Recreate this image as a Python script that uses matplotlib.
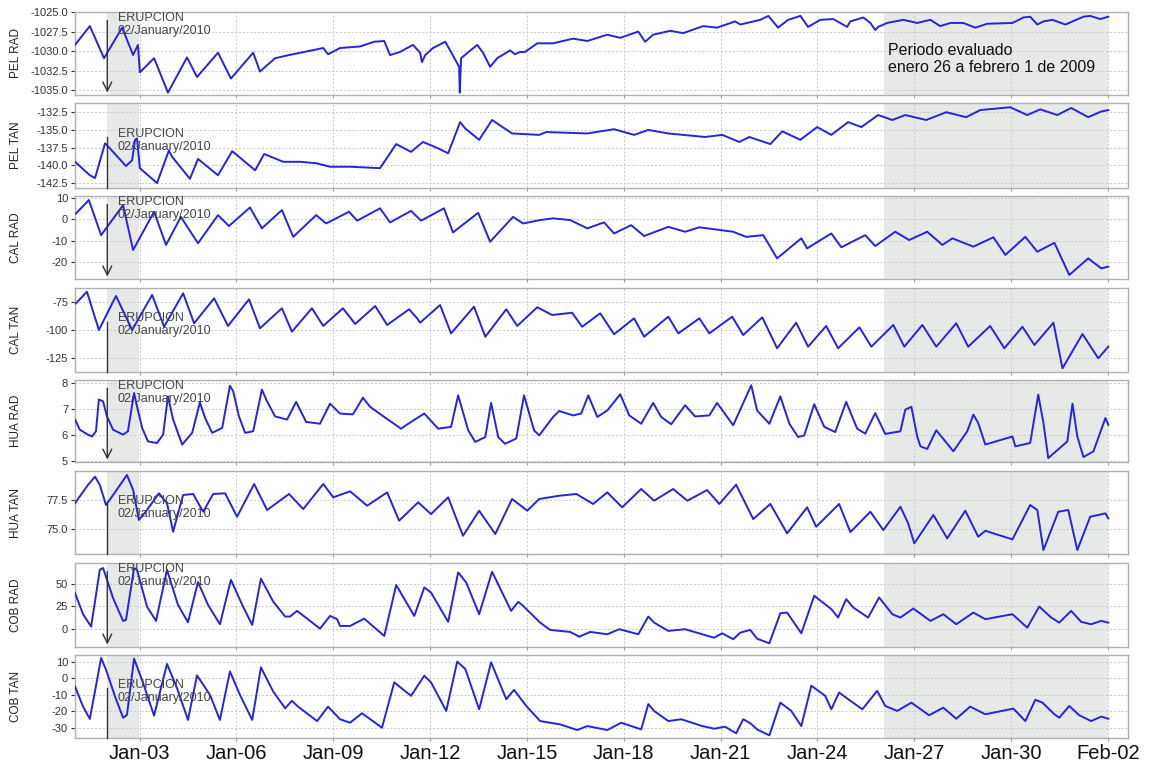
import matplotlib
matplotlib.use("Agg")
import matplotlib.pyplot as plt
import matplotlib.dates as mdates
from matplotlib.ticker import FormatStrFormatter
from datetime import datetime, timedelta

plt.rcParams['font.family'] = ['Liberation Sans', 'DejaVu Sans']

# ---------------- data (time = days since 2010-01-01 00:00) ----------------
start = datetime(2010, 1, 1)

pel_rad_t = [0.00, 0.46, 0.90, 1.46, 1.80, 1.95, 2.01, 2.45, 2.88, 3.47, 3.78, 4.43, 4.83, 5.52, 5.73, 6.20,
             6.63, 7.69, 7.84, 8.21, 8.83, 9.27, 9.58, 9.76, 10.07, 10.47, 10.69, 10.75, 10.85, 11.09, 11.47,
             11.62, 11.78, 11.90, 11.92, 11.96, 12.46, 12.64, 12.86, 13.08, 13.48, 13.63, 13.79, 13.94, 14.32,
             14.81, 15.43, 15.87, 16.49, 16.89, 17.45, 17.66, 17.91, 18.44, 18.84, 19.46, 19.89, 20.45, 20.61,
             21.23, 21.48, 21.78, 22.09, 22.47, 22.71, 23.09, 23.49, 23.92, 24.02, 24.42, 24.64, 24.79, 24.88,
             25.16, 25.66, 26.09, 26.50, 26.80, 27.12, 27.52, 27.89, 28.26, 29.04, 29.38, 29.59, 29.81, 30.00,
             30.28, 30.68, 31.24, 31.45, 31.76, 32.01]
pel_rad_v = [-1029.2, -1026.8, -1030.9, -1027.0, -1030.5, -1029.2, -1032.7, -1030.9, -1035.3, -1030.8, -1033.3,
             -1030.2, -1033.5, -1030.2, -1032.6, -1030.9, -1030.5, -1029.6, -1030.4, -1029.6, -1029.4, -1028.8,
             -1028.7, -1030.5, -1030.1, -1029.2, -1030.2, -1031.4, -1030.5, -1029.6, -1028.8, -1029.9, -1031.1,
             -1032.0, -1035.3, -1030.9, -1029.2, -1030.2, -1032.0, -1030.9, -1029.9, -1030.4, -1030.1, -1030.1,
             -1029.0, -1029.0, -1028.4, -1028.7, -1027.9, -1028.3, -1027.5, -1028.8, -1027.9, -1027.4, -1027.7,
             -1026.8, -1027.0, -1026.2, -1026.6, -1026.0, -1025.5, -1027.0, -1026.0, -1025.5, -1026.9, -1026.0,
             -1025.9, -1026.9, -1026.2, -1025.7, -1026.4, -1027.3, -1026.9, -1026.4, -1026.0, -1026.4, -1026.0,
             -1026.8, -1026.4, -1026.4, -1027.0, -1026.5, -1026.4, -1025.7, -1025.6, -1026.6, -1026.2, -1026.0,
             -1026.6, -1025.6, -1025.5, -1025.9, -1025.6]

pel_tan_t = [0.00, 0.46, 0.62, 0.93, 1.08, 1.58, 1.77, 1.86, 1.92, 2.01, 2.54, 2.91, 3.01, 3.56, 3.81, 4.43,
             4.87, 5.58, 5.86, 6.45, 6.97, 7.47, 7.90, 8.52, 9.45, 9.95, 10.41, 10.78, 11.25, 11.56, 11.93,
             12.09, 12.52, 12.92, 13.54, 14.38, 14.60, 15.87, 16.70, 17.32, 17.76, 18.38, 19.52, 20.05, 20.58,
             20.89, 21.54, 21.91, 22.47, 22.99, 23.43, 23.95, 24.36, 24.88, 25.32, 25.72, 26.37, 26.99, 27.61,
             28.04, 28.97, 29.50, 29.90, 30.43, 30.86, 31.39, 31.79, 32.01]
pel_tan_v = [-139.5, -141.4, -141.8, -136.9, -137.6, -140.1, -139.3, -136.4, -136.2, -140.4, -142.5, -137.9,
             -138.8, -141.9, -139.1, -141.4, -138.0, -140.7, -138.4, -139.5, -139.5, -139.7, -140.2, -140.2,
             -140.4, -137.0, -138.1, -136.7, -137.6, -138.3, -133.9, -134.8, -136.4, -133.6, -135.5, -135.7,
             -135.3, -135.5, -134.9, -135.7, -135.0, -135.5, -136.0, -135.7, -136.7, -136.0, -137.0, -135.2,
             -136.4, -134.6, -135.7, -133.9, -134.6, -132.9, -133.6, -132.9, -133.6, -132.5, -133.2, -132.2,
             -131.8, -132.9, -132.1, -132.9, -131.9, -133.2, -132.4, -132.2]

cal_rad_t = [0.03, 0.43, 0.81, 1.49, 1.80, 2.45, 2.82, 3.28, 3.81, 4.43, 4.77, 5.42, 5.79, 6.41, 6.76, 7.47,
             7.78, 8.49, 8.74, 9.45, 9.76, 10.41, 10.72, 11.43, 11.71, 12.49, 12.86, 13.57, 13.88, 14.41, 14.81,
             15.34, 15.87, 16.39, 16.70, 17.23, 17.63, 18.38, 18.90, 19.34, 20.39, 20.79, 21.32, 21.75, 22.50,
             22.68, 23.43, 23.74, 24.48, 24.79, 25.41, 25.84, 26.40, 26.87, 27.18, 27.83, 28.45, 28.82, 29.44,
             29.81, 30.34, 30.80, 31.39, 31.79, 32.01]
cal_rad_v = [2.8, 9.1, -7.4, 6.7, -14.4, 3.6, -12.0, 1.2, -11.2, 2.0, -3.1, 5.6, -4.2, 4.4, -8.2, 2.0, -1.9, 3.6,
             -0.6, 5.2, -1.4, 4.0, -0.6, 5.2, -6.1, 3.1, -10.5, 1.2, -1.9, -0.3, 0.5, -0.3, -4.2, -1.4, -6.6,
             -2.7, -7.8, -3.5, -5.8, -3.7, -5.8, -8.2, -7.4, -18.3, -8.9, -13.6, -6.6, -13.1, -7.4, -12.5, -5.8,
             -9.7, -5.8, -12.0, -8.9, -12.8, -8.4, -16.7, -8.2, -15.2, -11.0, -26.1, -18.3, -23.0, -22.2]

cal_tan_t = [0.03, 0.37, 0.74, 1.27, 1.77, 2.39, 2.76, 3.35, 3.69, 4.31, 4.74, 5.39, 5.73, 6.41, 6.72, 7.34,
             7.69, 8.30, 8.68, 9.30, 9.67, 10.35, 10.60, 10.69, 11.31, 11.65, 12.36, 12.71, 13.36, 13.70, 14.32,
             14.78, 15.40, 15.71, 16.27, 16.70, 17.32, 17.63, 18.38, 18.69, 19.34, 19.65, 20.36, 20.70, 21.29,
             21.75, 22.34, 22.71, 23.27, 23.64, 24.30, 24.67, 25.35, 25.69, 26.25, 26.68, 27.30, 27.67, 28.35,
             28.79, 29.35, 29.72, 30.31, 30.59, 31.21, 31.70, 32.01]
cal_tan_v = [-76.2, -65.8, -100.0, -69.6, -100.0, -68.7, -97.1, -67.2, -94.0, -71.7, -96.4, -72.6, -98.5, -80.6,
             -101.5, -80.6, -96.4, -80.6, -94.6, -78.6, -95.5, -81.5, -89.6, -93.5, -77.7, -103.0, -79.2, -106.0,
             -81.5, -96.4, -79.7, -86.6, -84.6, -97.1, -85.1, -103.8, -89.6, -106.0, -88.1, -103.0, -89.6, -103.0,
             -88.1, -104.5, -88.7, -116.3, -93.5, -114.9, -96.4, -116.3, -97.6, -114.9, -95.5, -114.9, -95.5,
             -114.9, -94.0, -114.9, -96.4, -116.3, -97.1, -113.4, -93.5, -134.2, -103.6, -125.3, -114.9]

hua_rad_t = [0.00, 0.15, 0.40, 0.53, 0.65, 0.74, 0.87, 0.99, 1.18, 1.49, 1.64, 1.83, 1.92, 2.08, 2.26, 2.54,
             2.73, 2.88, 3.04, 3.32, 3.63, 3.87, 4.03, 4.25, 4.56, 4.80, 4.90, 5.08, 5.27, 5.52, 5.79, 5.95, 6.20,
             6.57, 6.85, 7.16, 7.59, 7.90, 8.21, 8.61, 8.92, 9.14, 9.58, 10.10, 10.41, 10.82, 11.25, 11.65, 11.87,
             12.18, 12.40, 12.71, 12.89, 13.11, 13.32, 13.67, 13.91, 14.22, 14.38, 14.81, 15.00, 15.43, 15.68,
             15.90, 16.18, 16.49, 16.89, 17.17, 17.54, 17.91, 18.16, 18.47, 18.90, 19.21, 19.65, 19.89, 20.39,
             20.95, 21.13, 21.51, 21.85, 22.13, 22.40, 22.59, 22.90, 23.21, 23.55, 23.89, 24.23, 24.48, 24.79,
             25.10, 25.57, 25.72, 25.91, 26.09, 26.19, 26.40, 26.68, 27.21, 27.64, 27.83, 27.98, 28.20, 29.04,
             29.13, 29.59, 29.84, 30.00, 30.15, 30.74, 30.90, 31.05, 31.24, 31.55, 31.92, 32.01]
hua_rad_v = [6.58, 6.19, 6.00, 5.93, 6.13, 7.35, 7.28, 6.70, 6.19, 6.00, 6.13, 7.60, 7.09, 6.26, 5.74, 5.68,
             6.00, 7.47, 6.58, 5.62, 6.07, 7.24, 6.64, 6.07, 6.26, 7.88, 7.67, 6.70, 6.07, 6.13, 7.73, 7.28, 6.70,
             6.58, 7.26, 6.49, 6.42, 7.19, 6.81, 6.78, 7.42, 7.07, 6.68, 6.23, 6.49, 6.81, 6.23, 6.30, 7.51, 6.17,
             5.72, 5.91, 7.22, 5.91, 5.65, 5.85, 7.51, 6.17, 5.97, 6.68, 6.91, 6.74, 6.81, 7.51, 6.68, 6.93, 7.55,
             6.74, 6.42, 7.22, 6.68, 6.40, 7.13, 6.70, 6.74, 7.22, 6.36, 7.90, 6.93, 6.42, 7.47, 6.42, 5.91, 5.97,
             7.17, 6.30, 6.10, 7.26, 6.23, 6.04, 6.83, 6.03, 6.13, 6.96, 7.07, 5.93, 5.55, 5.45, 6.17, 5.36, 6.13,
             6.77, 6.45, 5.62, 5.93, 5.55, 5.68, 7.54, 6.45, 5.10, 5.74, 7.19, 5.93, 5.14, 5.36, 6.64, 6.38]

hua_tan_t = [0.00, 0.40, 0.62, 0.77, 0.96, 1.18, 1.61, 1.80, 1.98, 2.23, 2.60, 2.85, 3.04, 3.35, 3.66, 3.97,
             4.28, 4.65, 5.02, 5.55, 5.95, 6.63, 7.07, 7.69, 8.00, 8.52, 9.05, 9.67, 10.04, 10.63, 11.03, 11.56,
             12.02, 12.52, 13.02, 13.54, 14.01, 14.38, 15.00, 15.53, 16.05, 16.49, 16.95, 17.54, 17.94, 18.53,
             18.97, 19.58, 19.96, 20.48, 21.01, 21.54, 22.06, 22.68, 22.96, 23.67, 24.02, 24.64, 25.04, 25.57,
             25.81, 26.00, 26.59, 27.02, 27.58, 27.98, 28.20, 29.04, 29.59, 29.81, 30.00, 30.46, 30.77, 31.05,
             31.45, 31.92, 32.01]
hua_tan_v = [77.22, 78.79, 79.51, 78.79, 77.07, 77.93, 79.66, 78.36, 75.78, 76.64, 78.08, 77.22, 74.77, 77.93,
             78.02, 76.49, 78.02, 78.08, 76.06, 78.88, 76.64, 78.02, 76.72, 78.88, 77.73, 78.25, 77.01, 78.16,
             75.72, 77.30, 76.29, 77.73, 74.42, 76.58, 74.57, 77.59, 76.58, 77.59, 77.87, 78.02, 77.16, 78.16,
             76.87, 78.45, 77.44, 78.45, 77.44, 78.36, 77.16, 78.82, 75.86, 77.16, 74.63, 76.87, 75.20, 77.16,
             74.74, 76.49, 74.91, 76.92, 75.49, 73.77, 76.21, 74.20, 76.58, 74.34, 74.85, 74.11, 77.07, 76.64,
             73.19, 76.49, 76.64, 73.19, 76.06, 76.35, 75.92]

cob_rad_t = [0.00, 0.25, 0.50, 0.77, 0.87, 1.18, 1.49, 1.58, 1.83, 1.92, 2.23, 2.51, 2.85, 3.19, 3.50, 3.81,
             4.12, 4.49, 4.83, 5.18, 5.49, 5.76, 6.14, 6.51, 6.66, 6.88, 7.59, 7.90, 8.12, 8.21, 8.52, 8.96, 9.58,
             9.95, 10.51, 10.82, 11.03, 11.56, 11.87, 12.12, 12.52, 12.92, 13.51, 13.73, 13.88, 14.41, 14.72,
             15.34, 15.62, 15.96, 16.49, 16.86, 17.45, 17.76, 17.94, 18.38, 18.90, 19.43, 19.80, 20.05, 20.39,
             20.61, 20.92, 21.13, 21.51, 21.85, 22.06, 22.50, 22.90, 23.43, 23.64, 23.89, 24.11, 24.57, 24.91,
             25.32, 25.57, 25.97, 26.50, 26.90, 27.30, 27.83, 28.20, 29.04, 29.50, 29.87, 30.24, 30.49, 30.86,
             31.17, 31.48, 31.79, 32.01]
cob_rad_v = [39.7, 16.3, 2.6, 65.6, 67.4, 34.1, 8.9, 10.0, 67.4, 65.6, 24.8, 8.9, 65.6, 26.7, 7.4, 51.9, 26.7,
             5.2, 54.4, 26.7, 4.4, 55.6, 30.3, 13.7, 13.7, 20.0, 0.3, 14.4, 10.8, 3.3, 3.3, 11.4, -7.8, 48.6,
             14.4, 45.9, 40.3, 7.8, 62.6, 51.4, 16.3, 63.3, 20.0, 30.0, 25.6, 7.0, -1.1, -3.3, -8.6, -3.3, -5.9,
             -0.3, -5.9, 13.7, 7.0, -2.2, -0.3, -5.9, -9.7, -4.8, -11.4, -4.1, -1.1, -10.8, -15.9, 17.4, 18.1,
             -4.8, 36.7, 21.9, 12.6, 33.0, 23.7, 12.6, 34.8, 16.3, 12.6, 22.6, 8.9, 16.3, 5.2, 18.1, 10.8, 16.3,
             1.4, 24.8, 12.6, 7.0, 20.0, 7.8, 5.2, 8.9, 7.0]

cob_tan_t = [0.00, 0.25, 0.46, 0.81, 0.96, 1.24, 1.49, 1.61, 1.83, 2.11, 2.45, 2.85, 3.16, 3.50, 3.78, 4.18,
             4.49, 4.80, 5.11, 5.49, 5.76, 6.14, 6.51, 6.72, 6.91, 7.50, 7.84, 8.21, 8.52, 8.89, 9.51, 9.89,
             10.41, 10.82, 11.03, 11.50, 11.84, 12.09, 12.52, 12.89, 13.36, 13.60, 13.98, 14.41, 15.03, 15.56,
             15.87, 16.49, 16.92, 17.54, 17.76, 17.94, 18.38, 18.78, 19.43, 19.80, 20.14, 20.48, 20.70, 20.92,
             21.13, 21.51, 21.85, 22.19, 22.50, 22.81, 23.24, 23.43, 23.67, 23.95, 24.39, 24.85, 25.10, 25.47,
             25.91, 26.46, 26.90, 27.30, 27.73, 28.20, 29.07, 29.44, 29.75, 29.97, 30.34, 30.49, 30.80, 31.11,
             31.48, 31.79, 32.01]
cob_tan_v = [-5.0, -17.1, -24.5, 12.2, 5.2, -11.0, -23.8, -22.1, 11.8, -2.9, -22.5, 8.6, -5.9, -25.1, 1.7,
             -10.0, -25.1, 4.1, -10.0, -25.1, 6.5, -8.0, -18.1, -13.6, -17.1, -25.8, -17.1, -24.7, -26.8, -21.1,
             -29.8, -2.5, -10.6, 1.5, -2.5, -19.7, 10.0, 5.6, -18.7, 9.6, -12.6, -7.0, -16.7, -25.8, -27.8,
             -31.2, -28.8, -31.2, -26.8, -30.8, -15.6, -19.7, -25.8, -24.7, -28.8, -30.4, -29.2, -33.2, -24.7,
             -27.1, -30.8, -34.4, -14.7, -19.7, -28.8, -4.5, -10.6, -18.7, -8.6, -12.6, -18.7, -7.6, -16.7,
             -19.7, -14.7, -22.3, -17.7, -24.4, -17.1, -21.7, -18.3, -25.8, -13.0, -14.7, -21.7, -23.8, -16.7,
             -22.3, -25.8, -23.1, -24.4]

panel_names = ["PEL RAD", "PEL TAN", "CAL RAD", "CAL TAN", "HUA RAD", "HUA TAN", "COB RAD", "COB TAN"]
series_t = [pel_rad_t, pel_tan_t, cal_rad_t, cal_tan_t, hua_rad_t, hua_tan_t, cob_rad_t, cob_tan_t]
series_v = [pel_rad_v, pel_tan_v, cal_rad_v, cal_tan_v, hua_rad_v, hua_tan_v, cob_rad_v, cob_tan_v]
y_ticks = [[-1025.0, -1027.5, -1030.0, -1032.5, -1035.0],
           [-132.5, -135.0, -137.5, -140.0, -142.5],
           [10, 0, -10, -20],
           [-75, -100, -125],
           [8, 7, 6, 5],
           [77.5, 75.0],
           [50, 25, 0],
           [10, 0, -10, -20, -30]]
event_day = 1.0
event_text = "ERUPCION\n02/January/2010"
period_text = "Periodo evaluado\nenero 26 a febrero 1 de 2009"
shade_days = [(1.0, 1.97), (25.07, 32.0)]
tick_days = [2, 5, 8, 11, 14, 17, 20, 23, 26, 29, 32]

# ---------------- layout ----------------
W, H = 1155, 767
fig = plt.figure(figsize=(W / 100, H / 100), dpi=100)
panel_px = [(12, 95), (103, 188), (196, 279), (288, 372), (380, 462), (471, 554), (563, 647), (655, 738)]
ylims = [(-1035.6, -1025.0), (-143.2, -131.2), (-28, 11), (-137.5, -62.5), (4.95, 8.1), (72.85, 80.0),
         (-20, 73), (-36, 14)]
yfmt = ['%.1f', '%.1f', '%d', '%d', '%d', '%.1f', '%d', '%d']
left_px, right_px = 75, 1128


def d(x):
    return start + timedelta(days=x)


def dn(x):
    return mdates.date2num(d(x))


line_color = '#2424e0'
grid_color = '#c8c8c8'

axes = []
for i, (top, bot) in enumerate(panel_px):
    ax = fig.add_axes([left_px / W, 1 - bot / H, (right_px - left_px) / W, (bot - top) / H])
    axes.append(ax)
    for a, b in shade_days:
        ax.axvspan(dn(a), dn(b), color='#e6e9e6', zorder=0, lw=0)
    ax.plot([dn(t) for t in series_t[i]], series_v[i], color=line_color, lw=1.4, zorder=3)
    ax.xaxis_date()
    ax.set_xlim(dn(0.0), dn(32.62))
    ax.set_ylim(*ylims[i])
    ax.set_yticks(y_ticks[i])
    ax.yaxis.set_major_formatter(FormatStrFormatter(yfmt[i]))
    ax.set_xticks([dn(t) for t in tick_days])
    ax.xaxis.set_major_formatter(mdates.DateFormatter('%b-%d'))
    ax.grid(True, color=grid_color, ls=(0, (2, 2)), lw=0.7, zorder=1)
    for s in ax.spines.values():
        s.set_color('#b0b0b0')
        s.set_linewidth(1.0)
    ax.tick_params(axis='y', labelsize=8, colors='#333333', length=3, width=0.8, pad=2)
    ax.tick_params(axis='x', length=2, color='#999999', width=0.8)
    ax.set_ylabel(panel_names[i], fontsize=8.5, color='#222222')
    ax.yaxis.set_label_coords(-0.050, 0.5)
    if i < 7:
        ax.tick_params(axis='x', labelbottom=False)
    else:
        ax.tick_params(axis='x', labelsize=14.5, labelcolor='#111111', pad=2)

    xt = ax.get_xaxis_transform()
    # eruption annotation
    if i % 2 == 0:
        ax.text(dn(1.33), 1.0, event_text, transform=xt, fontsize=9,
                color='#444444', va='top', ha='left', zorder=5, linespacing=1.1)
        ax.annotate('', xy=(dn(event_day), 0.03), xytext=(dn(event_day), 0.9),
                    xycoords=xt, textcoords=xt,
                    arrowprops=dict(arrowstyle='->', color='#333333', lw=1.0,
                                    mutation_scale=16, shrinkA=0, shrinkB=0), zorder=5)
    else:
        ax.text(dn(1.33), 0.71, event_text, transform=xt, fontsize=9,
                color='#444444', va='top', ha='left', zorder=5, linespacing=1.1)
        ax.plot([dn(event_day), dn(event_day)], [0.0, 0.6], transform=xt,
                color='#333333', lw=1.0, zorder=5, clip_on=False)

axes[0].text(dn(25.2), 0.63, period_text, transform=axes[0].get_xaxis_transform(), fontsize=11.5,
             color='#111111', va='top', ha='left', zorder=5, linespacing=1.2)

fig.savefig('out.png', dpi=100)
